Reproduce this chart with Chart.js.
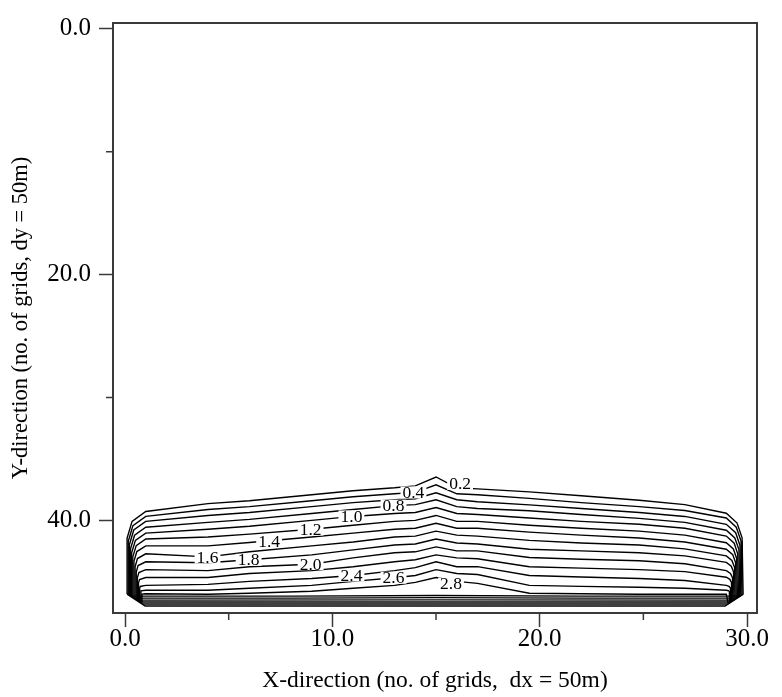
<!DOCTYPE html>
<html><head><meta charset="utf-8">
<script src="https://cdn.jsdelivr.net/npm/chart.js@4.4.1/dist/chart.umd.min.js"></script>
<style>html,body{margin:0;padding:0;background:#fff}#wrap{width:782px;height:697px}</style>
</head><body><div id="wrap"><canvas id="c" width="782" height="697"></canvas></div>
<script>
// axis ticks
const xMajorTicks = [0, 10, 20, 30];
const xMinorTicks = [5, 15, 25];
const yMajorTicks = [0, 20, 40];
const yMinorTicks = [10, 30];

// contour polylines [x (grid no.), y (grid no.)]
const c02 = [[0.10,46.00],[0.10,41.44],[0.34,40.08],[1,39.28],[4,38.64],[6,38.40],[9,37.92],[11,37.59],[13,37.35],[14,37.19],[15,36.47],[16,37.35],[17,37.44],[19.5,37.68],[22,38.00],[24.8,38.36],[27,38.72],[29,39.42],[29.52,40.22],[29.76,41.42],[29.81,46.02]];
const c04 = [[0.155,46.06],[0.155,41.71],[0.38,40.43],[1,39.68],[4,39.12],[6,38.88],[9,38.40],[11,38.08],[13,37.84],[14,37.72],[15,37.11],[16,37.84],[17,37.92],[19.5,38.21],[22,38.56],[24.8,38.88],[27,39.20],[29,39.81],[29.48,40.56],[29.71,41.69],[29.755,46.09]];
const c06 = [[0.21,46.12],[0.21,41.98],[0.42,40.78],[1,40.08],[4,39.60],[6,39.36],[9,38.88],[11,38.56],[13,38.32],[14,38.24],[15,37.76],[16,38.32],[17,38.48],[19.5,38.74],[22,39.04],[24.8,39.36],[27,39.68],[29,40.32],[29.45,41.01],[29.66,42.04],[29.70,46.14]];
const c08 = [[0.265,46.18],[0.265,42.31],[0.46,41.21],[1,40.56],[4,40.16],[6,39.92],[9,39.44],[11,39.12],[13,38.80],[14,38.72],[15,38.32],[16,38.88],[17,39.04],[19.5,39.22],[22,39.52],[24.8,39.84],[27,40.16],[29,40.80],[29.41,41.43],[29.61,42.38],[29.645,46.21]];
const c10 = [[0.32,46.24],[0.32,42.64],[0.50,41.63],[1,41.04],[4,40.72],[6,40.48],[9,40.00],[11,39.68],[13,39.44],[14,39.36],[15,38.96],[16,39.44],[17,39.52],[19.5,39.81],[22,40.08],[24.8,40.32],[27,40.64],[29,41.28],[29.38,41.86],[29.55,42.72],[29.59,46.27]];
const c12 = [[0.375,46.31],[0.375,42.97],[0.54,42.06],[1,41.52],[4,41.36],[6,41.12],[9,40.72],[11,40.40],[13,40.08],[14,40.00],[15,39.60],[16,40.08],[17,40.08],[19.5,40.40],[22,40.64],[24.8,40.88],[27,41.20],[29,41.82],[29.34,42.33],[29.50,43.10],[29.535,46.33]];
const c14 = [[0.43,46.37],[0.43,43.33],[0.57,42.54],[1,42.08],[4,42.08],[6,41.80],[9,41.36],[11,41.04],[13,40.72],[14,40.64],[15,40.24],[16,40.64],[17,40.64],[19.5,40.96],[22,41.20],[24.8,41.44],[27,41.76],[29,42.35],[29.31,42.79],[29.45,43.45],[29.48,46.39]];
const c16 = [[0.485,46.43],[0.485,43.78],[0.60,43.11],[1,42.72],[4,42.97],[6,42.56],[9,42.08],[11,41.76],[13,41.36],[14,41.28],[15,40.88],[16,41.20],[17,41.28],[19.5,41.63],[22,41.84],[24.8,42.00],[27,42.32],[29,42.89],[29.27,43.27],[29.40,43.83],[29.425,46.45]];
const c18 = [[0.54,46.49],[0.54,44.21],[0.63,43.68],[1,43.37],[4,43.45],[6,43.21],[9,42.81],[11,42.40],[13,42.00],[14,41.92],[15,41.52],[16,41.84],[17,41.92],[19.5,42.35],[22,42.48],[24.8,42.64],[27,42.89],[29,43.42],[29.24,43.73],[29.35,44.20],[29.37,46.51]];
const c20 = [[0.595,46.55],[0.595,44.66],[0.67,44.25],[1,44.01],[4,44.09],[6,43.77],[9,43.57],[11,43.05],[13,42.64],[14,42.56],[15,42.16],[16,42.48],[17,42.48],[19.5,43.02],[22,43.17],[24.8,43.29],[27,43.53],[29,44.09],[29.20,44.32],[29.30,44.67],[29.315,46.57]];
const c22 = [[0.65,46.61],[0.65,45.08],[0.70,44.81],[1,44.65],[4,44.65],[6,44.33],[9,44.09],[11,43.77],[13,43.37],[14,43.21],[15,42.81],[16,43.05],[17,43.13],[19.5,43.77],[22,43.89],[24.8,44.01],[27,44.17],[29,44.63],[29.17,44.80],[29.25,45.05],[29.26,46.63]];
const c24 = [[0.705,46.67],[0.705,45.53],[0.73,45.38],[1,45.29],[4,45.21],[6,44.97],[9,44.73],[11,44.49],[13,44.09],[14,43.85],[15,43.37],[16,43.77],[17,43.77],[19.5,44.49],[22,44.61],[24.8,44.73],[27,44.89],[29,45.29],[29.13,45.38],[29.20,45.51],[29.205,46.69]];
const c26 = [[0.76,46.73],[0.76,45.80],[0.77,45.73],[1,45.69],[4,45.69],[6,45.53],[9,45.29],[11,44.97],[13,44.67],[14,44.49],[15,44.01],[16,44.33],[17,44.41],[19.5,45.29],[22,45.37],[24.8,45.45],[27,45.53],[29,45.69],[29.10,45.73],[29.15,45.79],[29.15,46.74]];
const c28 = [[0.815,46.79],[0.815,46.00],[1,45.97],[4,46.01],[6,45.93],[9,45.77],[11,45.53],[13,45.29],[14,45.05],[15,44.65],[16,44.97],[17,45.13],[19.5,45.93],[22,45.97],[24.8,46.01],[27,46.01],[29,46.01],[29.095,46.80]];
// dense band of higher levels along the bottom boundary
const band1 = [[0.25,46.17],[8,46.17],[15,46.12],[22,46.17],[29.67,46.17]];
const band2 = [[0.40,46.33],[8,46.33],[15,46.29],[22,46.33],[29.52,46.33]];
const band3 = [[0.54,46.49],[15,46.47],[29.38,46.49]];
const band4 = [[0.68,46.65],[29.23,46.65]];
const band5 = [[0.83,46.81],[29.09,46.81]];
const boundary = [[0.10,46.00],[0.97,46.97],[28.94,46.97],[29.82,46.00]];

// contour labels
const labelText = ['0.2','0.4','0.8','1.0','1.2','1.4','1.6','1.8','2.0','2.4','2.6','2.8'];
const labelX = [16.16,13.91,12.95,10.92,8.95,6.95,3.98,5.96,8.95,10.92,12.95,15.72];
const labelY = [37.03,37.73,38.80,39.68,40.75,41.74,43.02,43.21,43.55,44.49,44.67,45.15];

const lines = [c02,c04,c06,c08,c10,c12,c14,c16,c18,c20,c22,c24,c26,c28,band1,band2,band3,band4,band5,boundary];
const FRAME = '#3a3a3a';
const SERIF = "'Liberation Serif', 'Times New Roman', serif";

const datasets = lines.map(pts => ({
  data: pts.map(p => ({x: p[0], y: p[1]})),
  showLine: true, borderColor: '#000', borderWidth: 1.4,
  pointRadius: 0, fill: false, tension: 0
}));

const extras = {
  id: 'extras',
  afterDatasetsDraw(chart) {
    const {ctx, chartArea: a, scales: {x, y}} = chart;
    ctx.save();
    // contour labels
    ctx.font = "17.5px " + SERIF;
    ctx.textAlign = 'center';
    ctx.textBaseline = 'middle';
    labelText.forEach((t, i) => {
      const px = x.getPixelForValue(labelX[i]);
      const py = y.getPixelForValue(labelY[i]);
      const w = ctx.measureText(t).width;
      ctx.fillStyle = '#fff';
      ctx.fillRect(px - w/2 - 2, py - 6, w + 4, 12);
      ctx.fillStyle = '#000';
      ctx.fillText(t, px, py + 1);
    });
    // frame
    ctx.strokeStyle = FRAME;
    ctx.lineWidth = 2;
    ctx.strokeRect(a.left, a.top, a.right - a.left, a.bottom - a.top);
    // minor ticks
    ctx.lineWidth = 1.5;
    ctx.beginPath();
    xMinorTicks.forEach(v => {
      const px = x.getPixelForValue(v);
      ctx.moveTo(px, a.bottom); ctx.lineTo(px, a.bottom + 7);
    });
    yMinorTicks.forEach(v => {
      const py = y.getPixelForValue(v);
      ctx.moveTo(a.left, py); ctx.lineTo(a.left - 7, py);
    });
    ctx.stroke();
    ctx.restore();
  }
};

new Chart(document.getElementById('c'), {
  type: 'scatter',
  data: { datasets },
  options: {
    responsive: false, animation: false, devicePixelRatio: 1,
    layout: { padding: { left: 0, top: 14, right: 25, bottom: 0 } },
    plugins: { legend: { display: false }, tooltip: { enabled: false } },
    scales: {
      x: {
        type: 'linear', position: 'bottom', min: -0.58, max: 30.48,
        afterBuildTicks(s) { s.ticks = xMajorTicks.map(v => ({value: v})); },
        afterFit(s) { s.height = 84; },
        border: { display: false },
        grid: { drawOnChartArea: false, drawTicks: true, tickLength: 14, tickColor: FRAME, tickWidth: 1.5 },
        ticks: { color: '#000', padding: -3, font: { family: SERIF, size: 25 }, callback: v => Number(v).toFixed(1), maxRotation: 0, autoSkip: false },
        title: { display: true, text: 'X-direction (no. of grids,  dx = 50m)', color: '#000', font: { family: SERIF, size: 23.5 }, padding: { top: 0, bottom: 2 } }
      },
      y: {
        type: 'linear', position: 'left', reverse: true, min: -0.48, max: 47.54,
        afterBuildTicks(s) { s.ticks = yMajorTicks.map(v => ({value: v})); },
        afterFit(s) { s.width = 113; },
        border: { display: false },
        grid: { drawOnChartArea: false, drawTicks: true, tickLength: 14, tickColor: FRAME, tickWidth: 1.5 },
        ticks: { color: '#000', padding: 8, font: { family: SERIF, size: 25 }, callback: v => Number(v).toFixed(1), autoSkip: false },
        title: { display: true, text: 'Y-direction (no. of grids, dy = 50m)', color: '#000', font: { family: SERIF, size: 22.5 }, padding: { top: 8, bottom: 0 } }
      }
    }
  },
  plugins: [extras]
});
</script></body></html>
